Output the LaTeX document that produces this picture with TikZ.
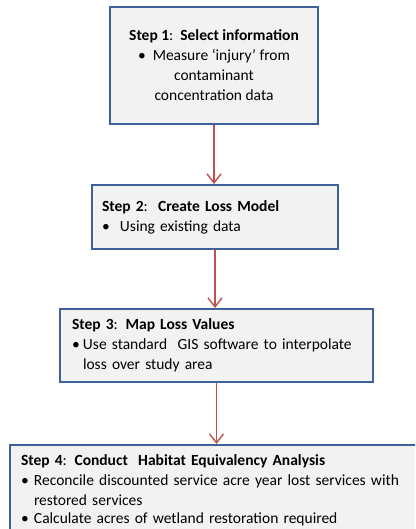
\documentclass[tikz,border=0pt]{standalone}
\usepackage{fontspec}
\setmainfont{Carlito}
\usetikzlibrary{arrows.meta}
\definecolor{boxline}{HTML}{3E6297}
\definecolor{boxfill}{HTML}{F2F2F2}
\definecolor{arrowred}{HTML}{C0504D}
\newcommand{\stepbul}[1][11pt]{\makebox[#1][l]{\textbullet}}

\begin{document}
\begin{tikzpicture}[x=1pt,y=1pt,
  stepbox/.style={draw=boxline, fill=boxfill, line width=2pt, rectangle,
    inner ysep=0pt, font=\fontsize{15.5}{20}\selectfont},
  steparrow/.style={draw=arrowred, line width=1.4pt,
    -{Straight Barb[length=9pt,width=14pt]}}]
		\useasboundingbox (0,0) rectangle (415,-529);
		\clip (0,0) rectangle (415,-529);
		%%%%% START %%%%%
		\node[stepbox, minimum width=208pt, minimum height=117pt, align=center] (b1) at (214,-65.5)
			{\textbf{Step 1}:\ \ \textbf{Select information}\\
			\textbullet\ \ Measure ‘injury’ from\\
			contaminant\\
			concentration data};
		
		\node[stepbox, inner xsep=10pt, text width=226pt, minimum height=64pt, align=left] (b2) at (215,-217)
			{\textbf{Step 2}:\ \ \textbf{Create Loss Model}\\
			\stepbul[18pt]Using existing data};
		
		\node[stepbox, inner xsep=12pt, text width=289pt, minimum height=73pt, align=left] (b3) at (216.5,-345.5)
			{\textbf{Step 3}: \textbf{Map Loss Values}\\
			\stepbul Use standard\ \ GIS software to interpolate\\
			\hspace*{11pt}loss over study area};
		
		% last box runs off the page at the bottom and right
		\node[stepbox, inner xsep=11pt, text width=388pt, minimum height=91pt, align=left] (b4) at (215,-490.5)
			{\textbf{Step 4}: \textbf{Conduct\ \ Habitat Equivalency Analysis}\\
			\stepbul[13pt]Reconcile discounted service acre year lost services with\\
			\hspace*{13pt}restored services\\[-1.5pt]
			\stepbul[13pt]Calculate acres of wetland restoration required};
		
		\draw[steparrow] (b1.south) -- (b1.south |- b2.north);
		\draw[steparrow] (b2.south) -- (b2.south |- b3.north);
		\draw[steparrow] (b3.south) -- (b3.south |- b4.north);
		%%%%% END %%%%%
\end{tikzpicture}
\end{document}
